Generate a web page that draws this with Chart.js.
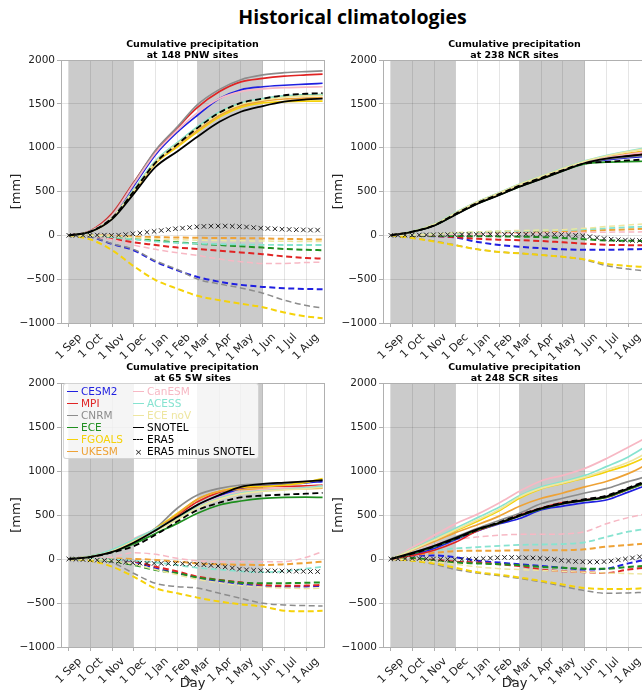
<!DOCTYPE html>
<html>
<head>
<meta charset="utf-8">
<script src="https://cdn.jsdelivr.net/npm/chart.js@4.4.1/dist/chart.umd.min.js"></script>
<style>
  html, body { margin:0; padding:0; background:#ffffff; }
  #fig { position:relative; width:642px; height:692px; overflow:hidden; background:#fff; }
  #fig canvas { position:absolute; }
  .main { position:absolute; left:0; width:705px; top:4px; text-align:center; font-family:'Open Sans', sans-serif; font-weight:700; font-size:19.5px; line-height:26px; color:#000; }
  .sub { position:absolute; width:263px; text-align:center; font-family:'DejaVu Sans', sans-serif; font-weight:700; font-size:9.5px; line-height:11px; color:#000; }
  .leg { position:absolute; left:63px; top:383px; width:196px; height:76px; background:rgba(255,255,255,0.8); border:1px solid rgba(204,204,204,0.8); border-radius:3px; box-sizing:border-box; font-family:'DejaVu Sans', sans-serif; font-size:10.5px; }
  .li { position:absolute; height:12px; line-height:12px; white-space:nowrap; }
  .hd { position:absolute; top:6px; left:0; width:11px; height:0; }
  .tx { position:absolute; left:14px; top:0; }
</style>
</head>
<body>
<div id="fig">
  <div class="main">Historical climatologies</div>
</div>
<script>
// ---------- categories / ticks ----------
const MONTH_LABELS = ['1 Sep','1 Oct','1 Nov','1 Dec','1 Jan','1 Feb','1 Mar','1 Apr','1 May','1 Jun','1 Jul','1 Aug'];
const MONTH_DAYS = [0,30,61,91,122,153,181,212,242,273,303,334];
const Y_TICKS = [-1000,-500,0,500,1000,1500,2000];
const DAYS = [0,30,61,91,122,153,181,212,242,273,303,334,357];
const MARK_DAYS = [0,10,20,30,40,50,60,70,80,90,100,110,120,130,140,150,160,170,180,190,200,210,220,230,240,250,260,270,280,290,300,310,320,330,340,350];
const SHADE_SPANS = [[0,91],[181,273]];
const MODELS = ['CESM2','MPI','CNRM','ECE','FGOALS','UKESM','CanESM','ACESS','ECE noV'];
const PANEL_TITLES = ['at 148 PNW sites','at 238 NCR sites','at 65 SW sites','at 248 SCR sites'];

// ---------- PNW (148 sites) ----------
const PNW_CESM2  = [0,45,220,560,920,1180,1370,1560,1660,1695,1712,1725,1735];
const PNW_MPI    = [0,50,250,600,960,1230,1460,1640,1750,1790,1815,1830,1840];
const PNW_CNRM   = [0,45,235,590,970,1240,1490,1665,1775,1830,1855,1868,1875];
const PNW_ECE    = [0,40,200,510,840,1050,1230,1400,1500,1555,1585,1600,1605];
const PNW_FGOALS = [0,40,190,490,820,1010,1180,1350,1460,1510,1525,1530,1530];
const PNW_UKESM  = [0,40,195,500,830,1030,1200,1370,1480,1530,1555,1565,1570];
const PNW_CANESM = [0,45,225,580,940,1200,1400,1560,1640,1670,1685,1690,1695];
const PNW_ACESS  = [0,42,205,520,850,1060,1240,1410,1510,1560,1590,1600,1603];
const PNW_ECENOV = [0,41,200,505,835,1045,1220,1390,1495,1545,1575,1590,1595];
const PNW_SNOTEL = [0,40,185,470,780,960,1125,1295,1410,1475,1525,1550,1560];
const PNW_ERA5   = [0,42,200,500,830,1040,1225,1400,1510,1560,1598,1615,1622];
const PNW_CESM2_D  = [0,-15,-100,-170,-300,-400,-475,-530,-565,-588,-603,-612,-615];
const PNW_MPI_D    = [0,-5,-40,-80,-110,-140,-155,-175,-195,-215,-240,-258,-265];
const PNW_CNRM_D   = [0,-15,-95,-160,-290,-390,-500,-555,-600,-660,-740,-800,-830];
const PNW_ECE_D    = [0,-3,-20,-40,-60,-80,-95,-110,-125,-140,-155,-165,-170];
const PNW_FGOALS_D = [0,-45,-170,-350,-510,-610,-690,-740,-780,-820,-880,-925,-945];
const PNW_UKESM_D  = [0,0,-5,-15,-20,-25,-28,-30,-32,-35,-40,-45,-48];
const PNW_CANESM_D = [0,-5,-50,-110,-160,-200,-230,-270,-300,-320,-320,-310,-305];
const PNW_ACESS_D  = [0,-2,-20,-45,-70,-85,-95,-100,-105,-108,-110,-110,-110];
const PNW_ECENOV_D = [0,-2,-10,-25,-40,-50,-55,-60,-62,-65,-68,-70,-70];
const PNW_MARKS = [0,0,0,2,3,2,0,2,8,18,25,35,45,55,65,75,82,90,97,102,105,106,106,104,100,95,88,82,78,74,70,67,64,62,60,60];

// ---------- NCR (238 sites) ----------
const NCR_CESM2  = [0,40,115,240,365,465,560,650,740,820,860,885,900];
const NCR_MPI    = [0,42,118,245,370,470,565,655,745,830,880,910,930];
const NCR_CNRM   = [0,40,115,240,365,465,560,650,740,825,870,895,910];
const NCR_ECE    = [0,40,112,238,362,462,555,645,735,815,835,840,845];
const NCR_FGOALS = [0,43,120,250,375,478,575,665,755,840,895,935,960];
const NCR_UKESM  = [0,43,122,252,380,482,580,670,760,840,890,930,955];
const NCR_CANESM = [0,45,125,255,380,482,578,668,755,835,885,925,950];
const NCR_ACESS  = [0,45,128,260,385,488,585,675,765,850,910,960,995];
const NCR_ECENOV = [0,44,125,255,382,485,582,672,762,845,905,955,985];
const NCR_SNOTEL = [0,40,110,235,360,460,555,645,735,825,875,905,925];
const NCR_ERA5   = [0,42,115,245,372,472,567,657,745,820,838,855,865];
const NCR_CESM2_D  = [0,-5,-10,-25,-75,-110,-130,-148,-160,-165,-165,-160,-155];
const NCR_MPI_D    = [0,-3,-8,-20,-40,-50,-55,-65,-80,-95,-108,-112,-114];
const NCR_CNRM_D   = [0,-30,-65,-110,-160,-190,-205,-225,-245,-280,-345,-385,-405];
const NCR_ECE_D    = [0,-2,-5,-8,-10,-12,-15,-20,-30,-45,-58,-62,-65];
const NCR_FGOALS_D = [0,-30,-70,-115,-160,-190,-205,-225,-245,-275,-325,-350,-360];
const NCR_UKESM_D  = [0,5,10,20,25,30,35,38,40,50,60,68,75];
const NCR_CANESM_D = [0,0,5,10,15,20,25,28,30,33,36,38,40];
const NCR_ACESS_D  = [0,5,15,25,35,45,50,55,60,70,80,92,100];
const NCR_ECENOV_D = [0,5,15,30,40,50,55,60,65,80,100,118,130];
const NCR_MARKS = [0,1,2,3,4,5,6,7,8,9,10,11,12,12,12,12,12,12,12,12,12,12,11,10,8,4,0,-6,-15,-27,-37,-44,-50,-54,-57,-59];

// ---------- SW (65 sites) ----------
const SW_CESM2  = [0,28,85,190,325,470,610,720,800,835,850,865,880];
const SW_MPI    = [0,30,90,200,340,500,650,760,810,822,825,830,840];
const SW_CNRM   = [0,28,88,200,350,580,728,803,841,850,862,880,898];
const SW_ECE    = [0,25,80,170,290,405,519,614,659,690,701,703,700];
const SW_FGOALS = [0,30,95,210,345,520,680,770,815,825,840,870,915];
const SW_UKESM  = [0,28,88,200,335,510,680,770,790,795,798,800,805];
const SW_CANESM = [0,30,100,230,340,470,600,700,760,790,805,815,830];
const SW_ACESS  = [0,32,105,220,340,470,590,690,750,775,790,810,830];
const SW_ECENOV = [0,28,88,200,320,450,580,680,740,770,785,800,815];
const SW_SNOTEL = [0,25,80,185,325,480,615,728,820,853,868,882,895];
const SW_ERA5   = [0,22,75,145,275,428,555,640,700,720,732,742,752];
const SW_CESM2_D  = [0,-3,-10,-30,-105,-162,-215,-255,-285,-306,-314,-312,-306];
const SW_MPI_D    = [0,-2,-8,-25,-87,-143,-200,-238,-265,-295,-305,-302,-295];
const SW_CNRM_D   = [0,-10,-41,-162,-276,-314,-330,-390,-447,-503,-522,-530,-534];
const SW_ECE_D    = [0,-5,-25,-68,-125,-162,-210,-240,-270,-276,-275,-270,-265];
const SW_FGOALS_D = [0,-20,-87,-200,-333,-390,-439,-484,-515,-541,-587,-595,-587];
const SW_UKESM_D  = [0,0,5,0,-10,-30,-50,-60,-65,-68,-60,-45,-30];
const SW_CANESM_D = [0,5,20,72,53,8,-20,-30,-30,-30,-30,20,84];
const SW_ACESS_D  = [0,0,-5,-20,-40,-70,-100,-120,-140,-150,-140,-110,-87];
const SW_ECENOV_D = [0,-5,-20,-60,-120,-180,-230,-270,-300,-320,-330,-335,-333];
const SW_MARKS = [0,-3,-6,-10,-13,-17,-22,-28,-35,-42,-47,-50,-50,-50,-51,-52,-54,-56,-60,-65,-72,-80,-90,-102,-115,-123,-128,-132,-134,-135,-136,-137,-139,-140,-142,-143];

// ---------- SCR (248 sites) ----------
const SCR_CESM2  = [0,50,120,220,320,400,460,560,600,640,670,760,830];
const SCR_MPI    = [0,40,100,190,320,410,500,580,640,670,700,790,860];
const SCR_CNRM   = [0,70,150,250,350,440,520,630,690,750,800,880,930];
const SCR_ECE    = [0,60,140,230,330,410,490,570,630,665,700,790,860];
const SCR_FGOALS = [0,110,220,320,430,550,690,800,860,920,990,1070,1150];
const SCR_UKESM  = [0,100,200,300,390,490,600,690,750,820,880,970,1060];
const SCR_CANESM = [0,130,270,400,510,640,770,890,950,1030,1140,1270,1370];
const SCR_ACESS  = [0,110,230,350,470,590,720,820,880,950,1050,1160,1270];
const SCR_ECENOV = [0,105,215,330,445,565,705,805,865,930,1010,1100,1190];
const SCR_SNOTEL = [0,70,150,240,340,410,490,575,630,670,710,800,870];
const SCR_ERA5   = [0,60,140,230,330,420,500,580,640,680,720,810,880];
const SCR_CESM2_D  = [0,40,40,20,-20,-40,-60,-80,-100,-120,-110,-50,-10];
const SCR_MPI_D    = [0,0,-10,-30,-40,-60,-80,-120,-140,-150,-160,-120,-100];
const SCR_CNRM_D   = [0,-20,-60,-120,-160,-190,-220,-260,-310,-360,-390,-385,-380];
const SCR_ECE_D    = [0,10,-20,-40,-50,-60,-70,-90,-100,-110,-110,-90,-80];
const SCR_FGOALS_D = [0,-20,-50,-100,-150,-180,-210,-250,-290,-330,-340,-340,-330];
const SCR_UKESM_D  = [0,40,70,90,95,95,100,100,100,110,140,160,175];
const SCR_CANESM_D = [0,100,170,220,250,270,280,280,285,310,400,470,510];
const SCR_ACESS_D  = [0,60,100,120,135,150,160,165,170,190,250,310,340];
const SCR_ECENOV_D = [0,-10,-30,-60,-90,-110,-120,-130,-140,-150,-160,-165,-170];
const SCR_MARKS = [0,2,4,5,5,3,0,-3,-5,-6,-5,-3,0,5,10,15,18,18,16,14,12,8,2,-5,-15,-22,-28,-32,-34,-34,-30,-22,-10,0,12,25];

// ---------- styles ----------
const COLORS = ['#1f1fe0','#e02424','#8c8c8c','#1f8f1f','#f5d20a','#eea236','#f7b8c4','#86e3d0','#eee6a0'];
const DIFF_WIDTH = [2,2,1.5,2,2,2,1.5,1.8,1.5];

const PANELS = [
  {left:0,   top:30,  h:330, xh:37, day:false, title:PANEL_TITLES[0],
   solids:[PNW_CESM2,PNW_MPI,PNW_CNRM,PNW_ECE,PNW_FGOALS,PNW_UKESM,PNW_CANESM,PNW_ACESS,PNW_ECENOV],
   diffs:[PNW_CESM2_D,PNW_MPI_D,PNW_CNRM_D,PNW_ECE_D,PNW_FGOALS_D,PNW_UKESM_D,PNW_CANESM_D,PNW_ACESS_D,PNW_ECENOV_D],
   snotel:PNW_SNOTEL, era5:PNW_ERA5, marks:PNW_MARKS},
  {left:322, top:30,  h:330, xh:37, day:false, title:PANEL_TITLES[1],
   solids:[NCR_CESM2,NCR_MPI,NCR_CNRM,NCR_ECE,NCR_FGOALS,NCR_UKESM,NCR_CANESM,NCR_ACESS,NCR_ECENOV],
   diffs:[NCR_CESM2_D,NCR_MPI_D,NCR_CNRM_D,NCR_ECE_D,NCR_FGOALS_D,NCR_UKESM_D,NCR_CANESM_D,NCR_ACESS_D,NCR_ECENOV_D],
   snotel:NCR_SNOTEL, era5:NCR_ERA5, marks:NCR_MARKS},
  {left:0,   top:353, h:339, xh:45, day:true, title:PANEL_TITLES[2],
   solids:[SW_CESM2,SW_MPI,SW_CNRM,SW_ECE,SW_FGOALS,SW_UKESM,SW_CANESM,SW_ACESS,SW_ECENOV],
   diffs:[SW_CESM2_D,SW_MPI_D,SW_CNRM_D,SW_ECE_D,SW_FGOALS_D,SW_UKESM_D,SW_CANESM_D,SW_ACESS_D,SW_ECENOV_D],
   snotel:SW_SNOTEL, era5:SW_ERA5, marks:SW_MARKS},
  {left:322, top:353, h:339, xh:45, day:true, title:PANEL_TITLES[3],
   solids:[SCR_CESM2,SCR_MPI,SCR_CNRM,SCR_ECE,SCR_FGOALS,SCR_UKESM,SCR_CANESM,SCR_ACESS,SCR_ECENOV],
   diffs:[SCR_CESM2_D,SCR_MPI_D,SCR_CNRM_D,SCR_ECE_D,SCR_FGOALS_D,SCR_UKESM_D,SCR_CANESM_D,SCR_ACESS_D,SCR_ECENOV_D],
   snotel:SCR_SNOTEL, era5:SCR_ERA5, marks:SCR_MARKS}
];

Chart.defaults.font.family = "'DejaVu Sans', sans-serif";
Chart.defaults.color = '#222';

const bgPlugin = {
  id: 'bgShade',
  beforeDraw(chart) {
    const {ctx, chartArea: a, scales: {x}} = chart;
    ctx.save();
    ctx.fillStyle = '#cbcbcb';
    SHADE_SPANS.forEach(([s, e]) => {
      const x0 = x.getPixelForValue(s), x1 = x.getPixelForValue(e);
      ctx.fillRect(x0, a.top, x1 - x0, a.bottom - a.top);
    });
    ctx.restore();
  },
  afterDraw(chart) {
    const {ctx, chartArea: a} = chart;
    ctx.save();
    ctx.strokeStyle = '#b0b0b0';
    ctx.lineWidth = 1;
    ctx.strokeRect(Math.round(a.left) + 0.5, Math.round(a.top) + 0.5, Math.round(a.right - a.left), Math.round(a.bottom - a.top));
    ctx.restore();
  }
};

const fig = document.getElementById('fig');
const pts = (arr, days) => arr.map((v, i) => ({x: days[i], y: v}));
const fmtY = v => (v < 0 ? '\u2212' + Math.abs(v) : String(v));

PANELS.forEach(p => {
  const cv = document.createElement('canvas');
  cv.width = 330; cv.height = p.h;
  cv.style.left = p.left + 'px'; cv.style.top = p.top + 'px';
  cv.style.width = '330px'; cv.style.height = p.h + 'px';
  fig.appendChild(cv);

  const sub = document.createElement('div');
  sub.className = 'sub';
  sub.style.left = (p.left + 61) + 'px';
  sub.style.top = (p.top + 7.5) + 'px';
  sub.innerHTML = 'Cumulative precipitation<br>' + p.title;
  fig.appendChild(sub);

  const ds = [];
  MODELS.forEach((m, i) => {
    ds.push({label: m + ' diff', data: pts(p.diffs[i], DAYS), borderColor: COLORS[i], borderWidth: DIFF_WIDTH[i], borderDash: [6, 3.5], pointRadius: 0, fill: false});
  });
  MODELS.forEach((m, i) => {
    ds.push({label: m, data: pts(p.solids[i], DAYS), borderColor: COLORS[i], borderWidth: 1.7, pointRadius: 0, fill: false});
  });
  ds.push({label: 'SNOTEL', data: pts(p.snotel, DAYS), borderColor: '#000', borderWidth: 1.8, pointRadius: 0, fill: false});
  ds.push({label: 'ERA5', data: pts(p.era5, DAYS), borderColor: '#000', borderWidth: 1.8, borderDash: [6, 3.5], pointRadius: 0, fill: false});
  ds.push({label: 'ERA5 minus SNOTEL', data: pts(p.marks, MARK_DAYS), showLine: false, pointStyle: 'crossRot', pointRadius: 3.2, borderColor: '#222', borderWidth: 1, backgroundColor: '#222'});
  ds.forEach((d, i) => { d.order = ds.length - i; });

  new Chart(cv, {
    type: 'line',
    data: {datasets: ds},
    plugins: [bgPlugin],
    options: {
      responsive: false, animation: false, devicePixelRatio: 1,
      layout: {padding: {top: 30, right: 6, bottom: 0, left: 0}},
      plugins: {legend: {display: false}, tooltip: {enabled: false}, title: {display: false}},
      elements: {line: {cubicInterpolationMode: 'monotone'}, point: {radius: 0}},
      scales: {
        x: {
          type: 'linear', min: -11, max: 359,
          afterBuildTicks: s => { s.ticks = MONTH_DAYS.map(v => ({value: v})); },
          afterFit: s => { s.height = p.xh; s.paddingLeft = 0; s.paddingRight = 0; s.paddingTop = 0; s.paddingBottom = 0; },
          ticks: {autoSkip: false, minRotation: 45, maxRotation: 45, padding: 4, labelOffset: 11, font: {size: 11}, color: '#222',
                  callback: (v, i) => MONTH_LABELS[i]},
          grid: {color: 'rgba(0,0,0,0.13)', lineWidth: 0.8, tickLength: 4, tickColor: '#9a9a9a', drawTicks: true},
          border: {display: false},
          title: {display: p.day, text: 'Day', font: {size: 13}, color: '#222', padding: {top: 0, bottom: 1}}
        },
        y: {
          min: -1000, max: 2000,
          afterBuildTicks: s => { s.ticks = Y_TICKS.map(v => ({value: v})); },
          afterFit: s => { s.width = 61; s.paddingTop = 0; s.paddingBottom = 0; s.paddingLeft = 0; s.paddingRight = 0; },
          ticks: {font: {size: 10.5}, color: '#222', padding: 2, callback: v => fmtY(v)},
          grid: {color: 'rgba(0,0,0,0.13)', lineWidth: 0.8, tickLength: 4, tickColor: '#9a9a9a', drawTicks: true},
          border: {display: false},
          title: {display: true, text: '[mm]', font: {size: 13}, color: '#222', padding: {top: 9, bottom: 0}}
        }
      }
    }
  });
});

// ---------- legend (in SW panel) ----------
const LEG_LEFT = ['CESM2','MPI','CNRM','ECE','FGOALS','UKESM'];
const LEG_RIGHT = ['CanESM','ACESS','ECE noV','SNOTEL','ERA5','ERA5 minus SNOTEL'];
const leg = document.createElement('div');
leg.className = 'leg';
fig.appendChild(leg);
function legItem(label, col, row, color, kind) {
  const it = document.createElement('div');
  it.className = 'li';
  it.style.left = (col === 0 ? 3 : 69) + 'px';
  it.style.top = (1.2 + row * 12.05) + 'px';
  const h = document.createElement('div');
  h.className = 'hd';
  if (kind === 'line') { h.style.borderTop = '1.8px solid ' + color; }
  else if (kind === 'dash') { h.style.borderTop = '1.8px dashed ' + color; h.style.width = '10px'; }
  else { h.style.top = '0px'; h.style.height = '12px'; h.style.fontSize = '9px'; h.style.lineHeight = '14px'; h.style.textAlign = 'center'; h.style.color = '#222'; h.textContent = '\u00d7'; }
  it.appendChild(h);
  const t = document.createElement('div');
  t.className = 'tx';
  t.style.color = color;
  t.textContent = label;
  it.appendChild(t);
  leg.appendChild(it);
}
LEG_LEFT.forEach((m, i) => legItem(m, 0, i, COLORS[MODELS.indexOf(m)], 'line'));
LEG_RIGHT.forEach((m, i) => {
  const mi = MODELS.indexOf(m);
  if (mi >= 0) legItem(m, 1, i, COLORS[mi], 'line');
  else if (m === 'SNOTEL') legItem(m, 1, i, '#000', 'line');
  else if (m === 'ERA5') legItem(m, 1, i, '#000', 'dash');
  else legItem(m, 1, i, '#000', 'mark');
});
</script>
</body>
</html>
